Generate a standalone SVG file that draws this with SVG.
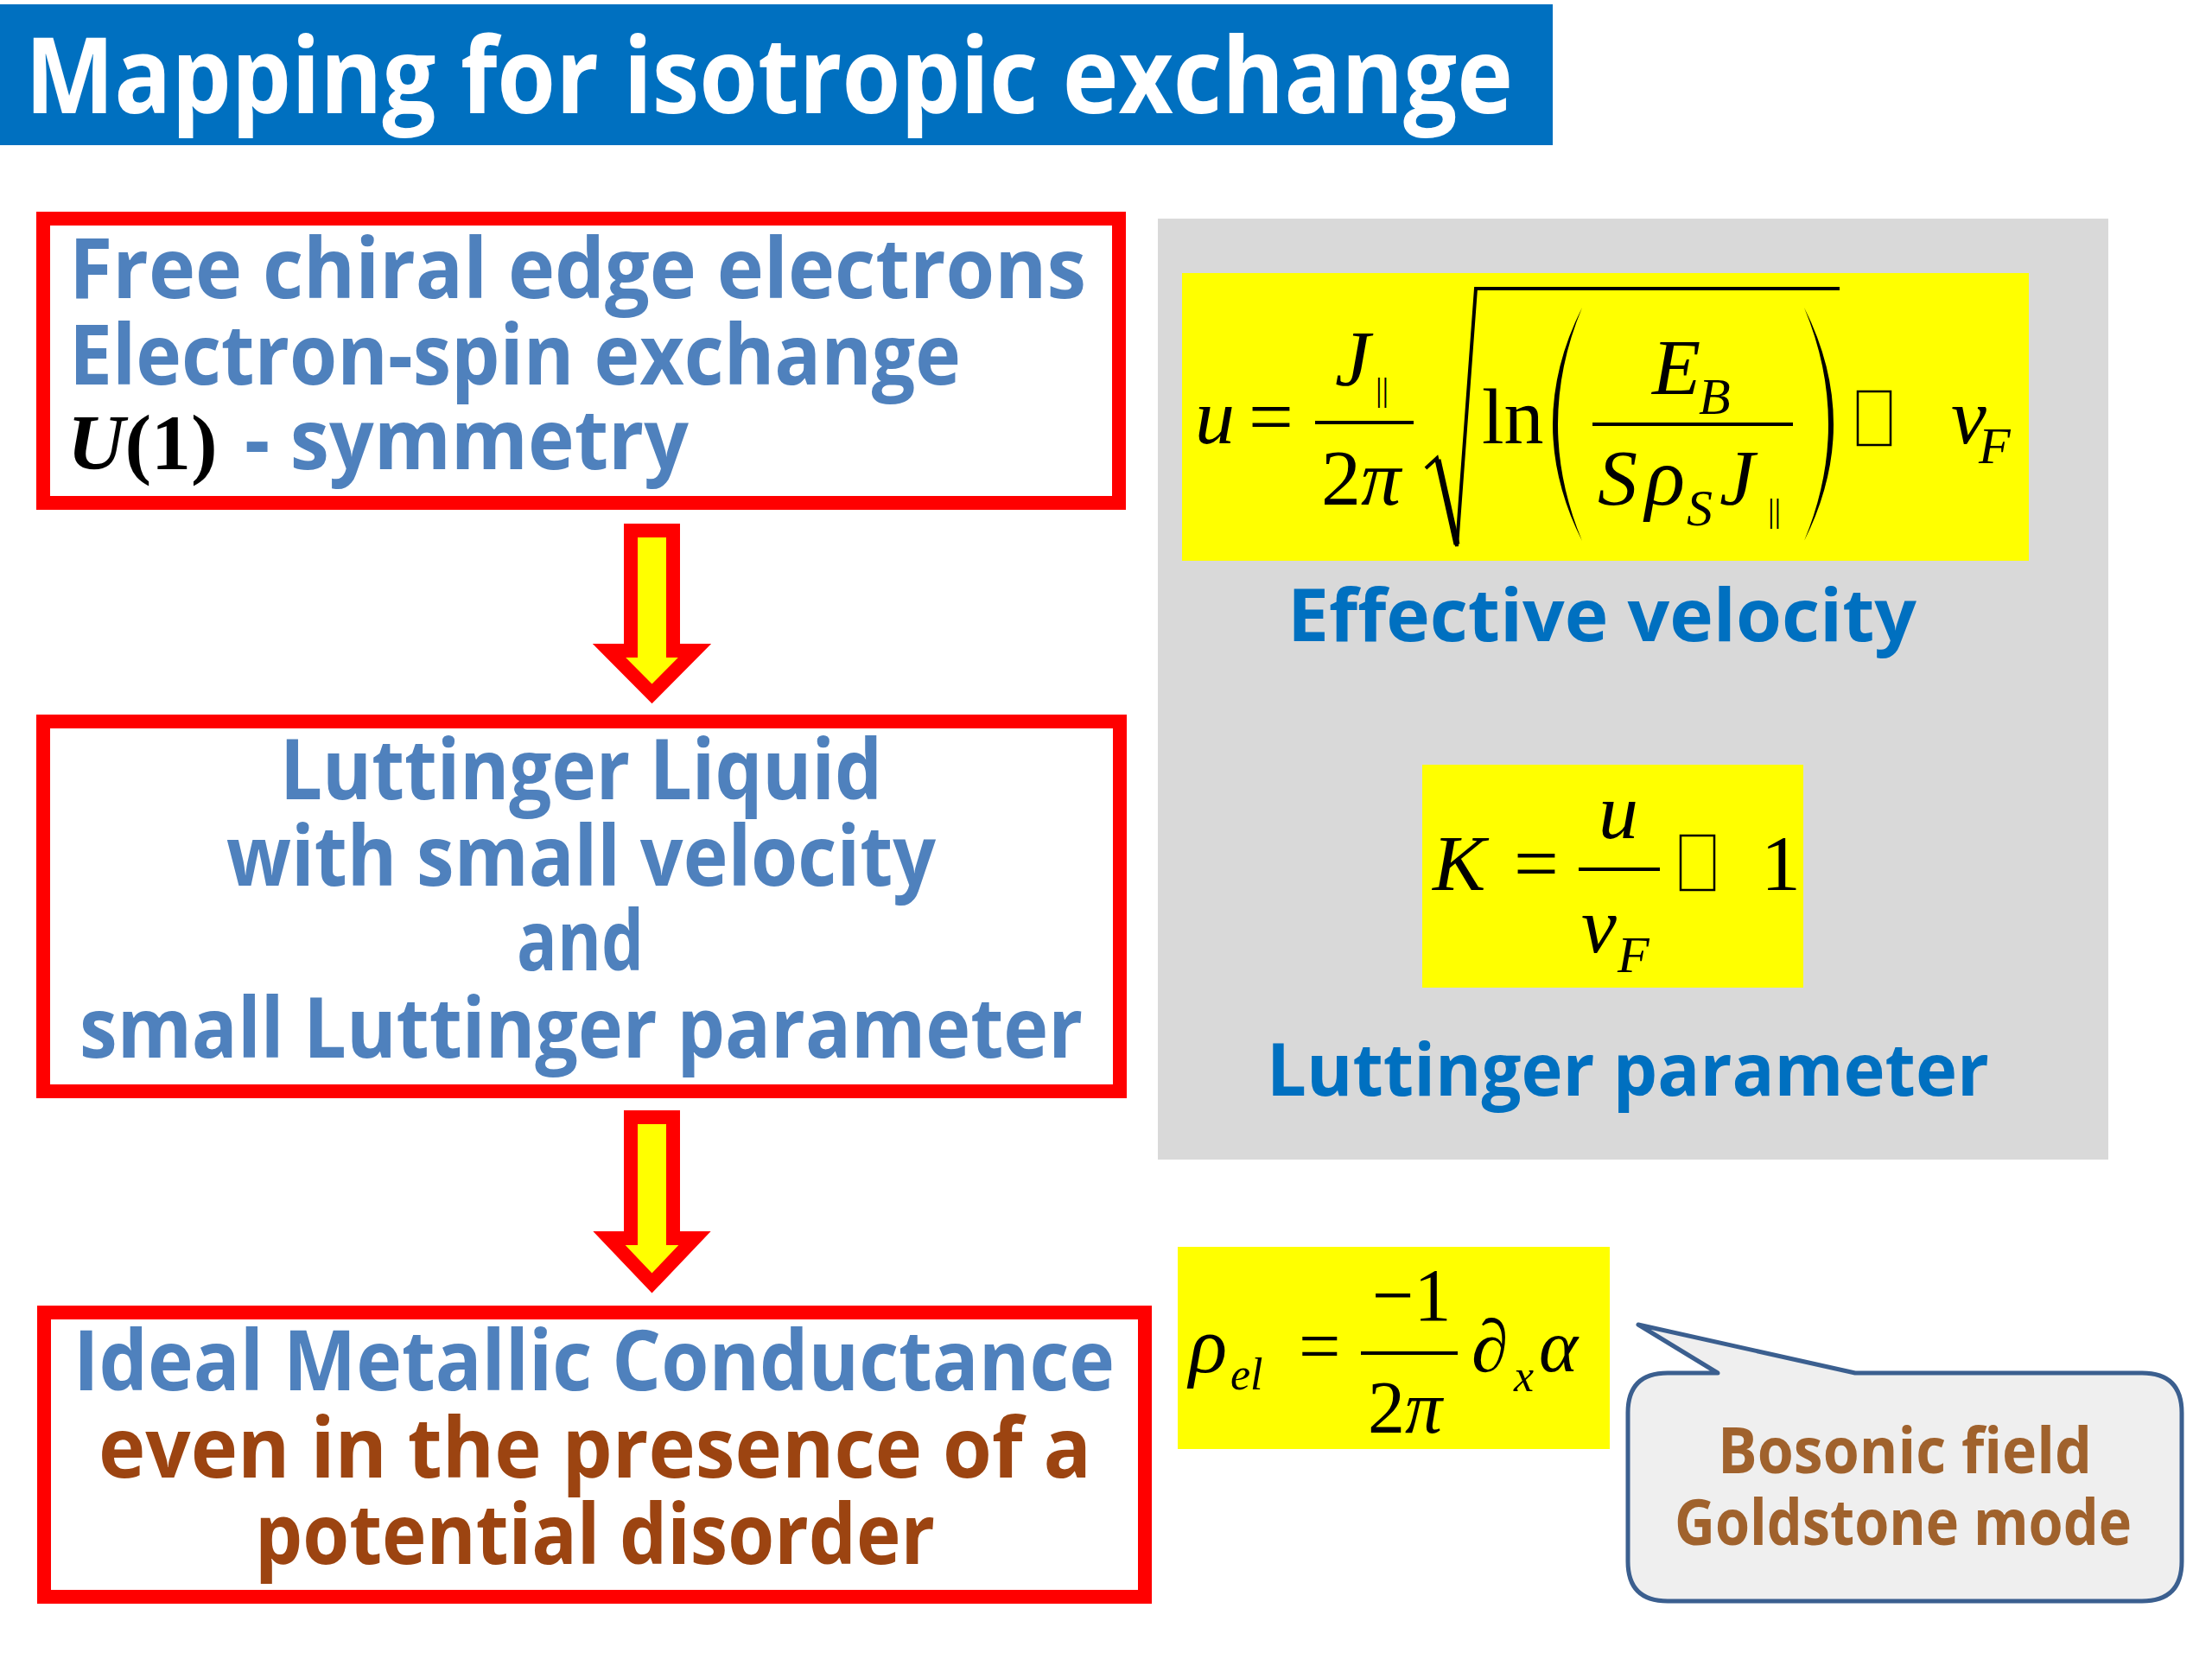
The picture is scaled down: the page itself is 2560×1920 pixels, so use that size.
<svg xmlns="http://www.w3.org/2000/svg" width="2560" height="1920" viewBox="0 0 2560 1920">
<style>
.box{fill:#ffffff;stroke:#ff0000;stroke-width:16}
.cs{font-family:"Open Sans","Noto Sans","DejaVu Sans",sans-serif;font-weight:700}
.blue{fill:#4f81bd}
.dblue{fill:#0070c0}
.brown{fill:#9c4411}
.math{font-family:"Liberation Serif","DejaVu Serif",serif;fill:#000000}
.it{font-style:italic}
.bar{stroke:#000000;stroke-width:4}
.yel{fill:#ffff00}
.tofu{fill:none;stroke:#000000;stroke-width:2.5}
.arrow{fill:#ffff00;stroke:#ff0000;stroke-width:16;stroke-linejoin:miter}
</style>
<rect x="0" y="0" width="2560" height="1920" fill="#ffffff"/>

<g id="title">
<rect x="0" y="5" width="1797" height="163" fill="#0070c0"/>
<text class="cs" x="29" y="131" font-size="122" fill="#ffffff" textLength="1722" lengthAdjust="spacingAndGlyphs">Mapping for isotropic exchange</text>
</g>

<g id="box1">
<rect class="box" x="50" y="253" width="1245" height="329"/>
<text class="cs blue" x="80" y="345" font-size="96" textLength="1177" lengthAdjust="spacingAndGlyphs">Free chiral edge electrons</text>
<text class="cs blue" x="80" y="445" font-size="96" textLength="1032" lengthAdjust="spacingAndGlyphs">Electron-spin exchange</text>
<text class="math" x="78" y="543" font-size="92" font-weight="700"><tspan font-style="italic">U</tspan>(1)</text>
<text class="cs blue" x="283" y="543" font-size="96" textLength="514" lengthAdjust="spacingAndGlyphs">- symmetry</text>
</g>

<g id="box2">
<rect class="box" x="50" y="835" width="1246" height="428"/>
<text class="cs blue" x="324" y="925" font-size="96" textLength="697" lengthAdjust="spacingAndGlyphs">Luttinger Liquid</text>
<text class="cs blue" x="262" y="1025" font-size="96" textLength="821" lengthAdjust="spacingAndGlyphs">with small velocity</text>
<text class="cs blue" x="598" y="1123" font-size="96" textLength="147" lengthAdjust="spacingAndGlyphs">and</text>
<text class="cs blue" x="92" y="1224" font-size="96" textLength="1161" lengthAdjust="spacingAndGlyphs">small Luttinger parameter</text>
</g>

<g id="box3">
<rect class="box" x="51" y="1519" width="1274" height="329"/>
<text class="cs blue" x="85" y="1609" font-size="96" textLength="1205" lengthAdjust="spacingAndGlyphs">Ideal Metallic Conductance</text>
<text class="cs brown" x="114" y="1710" font-size="96" textLength="1149" lengthAdjust="spacingAndGlyphs">even in the presence of a</text>
<text class="cs brown" x="295" y="1810" font-size="96" textLength="787" lengthAdjust="spacingAndGlyphs">potential disorder</text>
</g>

<g id="connectors">
<path class="arrow" d="M730,614 H779 V753 H804 L754.5,803 L705,753 H730 Z"/>
<path class="arrow" d="M730,1293 H779 V1433 H804 L754.5,1485 L705,1433 H730 Z"/>
</g>

<g id="panel">
<rect x="1340" y="253" width="1100" height="1089" fill="#d9d9d9"/>
</g>

<g id="formula-velocity">
<rect class="yel" x="1368" y="316" width="980" height="333"/>
<text class="math it" x="1383" y="513" font-size="92">u</text>
<text class="math" x="1445" y="513" font-size="92">=</text>
<line class="bar" x1="1522" y1="489" x2="1636" y2="489"/>
<text class="math it" x="1545" y="446" font-size="92">J</text>
<text class="math" x="1592" y="464" font-size="38">||</text>
<text class="math" x="1529" y="584" font-size="92">2<tspan font-style="italic">π</tspan></text>
<path d="M1650,542 L1663,530 L1686,632 L1708,334 H2129" fill="none" stroke="#000" stroke-width="4" stroke-linejoin="miter"/>
<line x1="1664" y1="532" x2="1686" y2="630" stroke="#000" stroke-width="7"/>
<text class="math" x="1715" y="513" font-size="92">ln</text>
<path d="M1831,356 Q1763,491 1831,626 Q1775,491 1831,356 Z" fill="#000"/>
<path d="M2088,356 Q2156,491 2088,626 Q2144,491 2088,356 Z" fill="#000"/>
<line class="bar" x1="1843" y1="491" x2="2075" y2="491"/>
<text class="math it" x="1912" y="456" font-size="92">E</text>
<text class="math it" x="1966" y="479" font-size="60">B</text>
<text class="math it" x="1849" y="584" font-size="92">S</text>
<text class="math it" x="1904" y="584" font-size="96">ρ</text>
<text class="math it" x="1952" y="608" font-size="60">S</text>
<text class="math it" x="1990" y="584" font-size="92">J</text>
<text class="math" x="2046" y="604" font-size="38">||</text>
<rect class="tofu" x="2150" y="453" width="38" height="62"/>
<text class="math it" x="2258" y="513" font-size="92">v</text>
<text class="math it" x="2290" y="536" font-size="60">F</text>
</g>
<g id="label-velocity">
<text class="cs dblue" x="1490" y="742" font-size="84" textLength="728" lengthAdjust="spacingAndGlyphs">Effective velocity</text>
</g>

<g id="formula-K">
<rect class="yel" x="1646" y="885" width="441" height="258"/>
<text class="math it" x="1658" y="1030" font-size="92">K</text>
<text class="math" x="1752" y="1030" font-size="92">=</text>
<line class="bar" x1="1827" y1="1006" x2="1921" y2="1006"/>
<text class="math it" x="1850" y="970" font-size="92">u</text>
<text class="math it" x="1830" y="1102" font-size="92">v</text>
<text class="math it" x="1872" y="1125" font-size="60">F</text>
<rect class="tofu" x="1945" y="967" width="39" height="63"/>
<text class="math" x="2038" y="1030" font-size="92">1</text>
</g>
<g id="label-K">
<text class="cs dblue" x="1466" y="1268" font-size="84" textLength="836" lengthAdjust="spacingAndGlyphs">Luttinger parameter</text>
</g>

<g id="formula-rho">
<rect class="yel" x="1363" y="1443" width="500" height="234"/>
<text class="math it" x="1376" y="1588" font-size="92">ρ</text>
<text class="math it" x="1424" y="1608" font-size="52">el</text>
<text class="math" x="1503" y="1587" font-size="86">=</text>
<line class="bar" x1="1575" y1="1566" x2="1687" y2="1566"/>
<text class="math" x="1588" y="1528" font-size="86">−1</text>
<text class="math" x="1583" y="1658" font-size="86">2<tspan font-style="italic">π</tspan></text>
<text class="math it" x="1703" y="1587" font-size="86">∂</text>
<text class="math it" x="1752" y="1610" font-size="52">x</text>
<text class="math it" x="1781" y="1587" font-size="86">α</text>
</g>

<g id="callout">
<path d="M1930,1589 L1988,1589 L1896,1533 L2147,1589 L2479,1589 Q2525,1589 2525,1635 L2525,1807 Q2525,1853 2479,1853 L1930,1853 Q1884,1853 1884,1807 L1884,1635 Q1884,1589 1930,1589 Z" fill="#efefef" stroke="#3b5f8f" stroke-width="5" stroke-linejoin="round"/>
<text class="cs" x="1988" y="1705" font-size="74" fill="#a0622d" textLength="433" lengthAdjust="spacingAndGlyphs">Bosonic field</text>
<text class="cs" x="1938" y="1788" font-size="74" fill="#a0622d" textLength="529" lengthAdjust="spacingAndGlyphs">Goldstone mode</text>
</g>
</svg>
